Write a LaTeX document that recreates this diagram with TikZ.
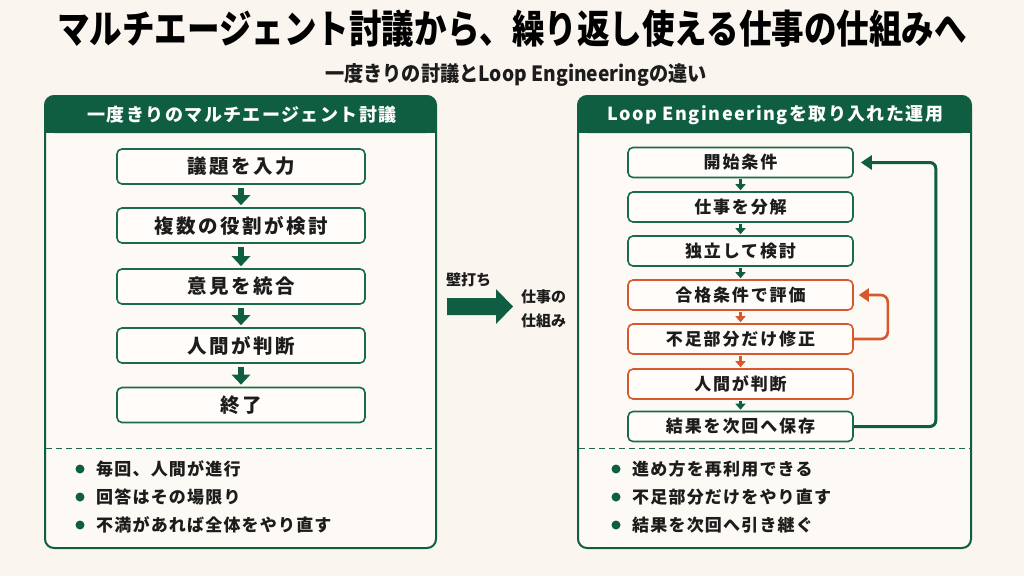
\documentclass[tikz,border=0pt]{standalone}
\usepackage{graphicx}
\usepackage{fontspec}
\setmainfont{Noto Sans CJK JP}
\usetikzlibrary{arrows.meta}
\definecolor{bg}{HTML}{FBF5EF}
\definecolor{panel}{HTML}{FDF9F4}
\definecolor{boxfill}{HTML}{FFFCF9}
\definecolor{gr}{HTML}{0F5E42}
\definecolor{boxg}{HTML}{1A6B4C}
\definecolor{org}{HTML}{D6582C}
\definecolor{ink}{HTML}{1C1C1C}
\tikzset{
  panelframe/.style={draw=gr, line width=2pt, rounded corners=9pt},
  lbox/.style={draw=boxg, line width=1.6pt, rounded corners=5pt, fill=boxfill,
    minimum width=248pt, minimum height=35pt, inner sep=0pt, text=ink,
    font=\fontsize{19.5}{22}\selectfont\bfseries\addfontfeature{LetterSpace=13}},
  rbox/.style={draw=boxg, line width=1.6pt, rounded corners=5pt, fill=boxfill,
    minimum width=225pt, minimum height=30pt, inner sep=0pt, text=ink,
    font=\fontsize{17}{20}\selectfont\bfseries\addfontfeature{LetterSpace=11}},
  obox/.style={rbox, draw=org},
  bigdown/.style={draw=gr, line width=6pt, -{Triangle[width=18pt,length=10pt]}, shorten <=3pt, shorten >=2pt},
  smalldown/.style={line width=3pt, -{Triangle[width=10pt,length=6pt]}, shorten <=1pt, shorten >=1pt},
  hdr/.style={text=white, font=\fontsize{18}{21}\selectfont\bfseries\addfontfeature{LetterSpace=8}},
  bullettext/.style={anchor=west, text=ink, inner sep=0pt, font=\fontsize{17}{20}\selectfont\bfseries\addfontfeature{LetterSpace=7}},
  midtext/.style={text=ink, inner sep=0pt, font=\fontsize{15}{18}\selectfont\bfseries},
  divider/.style={draw=boxg, line width=1pt, dash pattern=on 6pt off 4pt},
}
\begin{document}
\begin{tikzpicture}[x=1pt,y=-1pt]
\fill[bg] (0,0) rectangle (1024,576);
\useasboundingbox (0,0) rectangle (1024,576);

% titles
\node[text=black, inner sep=0pt] (title) at (512,29)
  {\fontsize{35}{40}\selectfont\bfseries\scalebox{0.93}[1.12]{マルチエージェント討議から、繰り返し使える仕事の仕組みへ}};
\node[text=ink, inner sep=0pt] (subtitle) at (516,75)
  {\fontsize{20}{23}\selectfont\bfseries\scalebox{0.96}[1.05]{一度きりの討議とLoop Engineeringの違い}};

% ---------- left panel ----------
\fill[panel, rounded corners=9pt] (45,96) rectangle (436,548);
\fill[gr, rounded corners=9pt] (45,96) rectangle (436,133);
\fill[gr] (45,120) rectangle (436,133);
\draw[panelframe] (45,96) rectangle (436,548);
\node[hdr] (lhead) at (242,115) {一度きりのマルチエージェント討議};

\node[lbox] (L1) at (241,166.5) {議題を入力};
\node[lbox] (L2) at (241,225.5) {複数の役割が検討};
\node[lbox] (L3) at (241,286.5) {意見を統合};
\node[lbox] (L4) at (241,345.5) {人間が判断};
\node[lbox] (L5) at (241,405) {終了};
\draw[bigdown] (L1) -- (L2);
\draw[bigdown] (L2) -- (L3);
\draw[bigdown] (L3) -- (L4);
\draw[bigdown] (L4) -- (L5);

\draw[divider] (46,448) -- (435,448);
\fill[gr] (80,469) circle (4.5pt);
\fill[gr] (80,497) circle (4.5pt);
\fill[gr] (80,525) circle (4.5pt);
\node[bullettext] (lb1) at (96,469) {毎回、人間が進行};
\node[bullettext] (lb2) at (96,497) {回答はその場限り};
\node[bullettext] (lb3) at (96,525) {不満があれば全体をやり直す};

% ---------- middle ----------
\node[midtext, anchor=west] (kabe) at (446,280) {壁打ち};
\fill[gr] (447,298) -- (496,298) -- (496,289) -- (513,306.5) -- (496,324) -- (496,315) -- (447,315) -- cycle;
\node[midtext, anchor=west] (shigoto1) at (521,296.5) {仕事の};
\node[midtext, anchor=west] (shigoto2) at (521,320.5) {仕組み};

% ---------- right panel ----------
\fill[panel, rounded corners=9pt] (578,96) rectangle (971,548);
\fill[gr, rounded corners=9pt] (578,96) rectangle (971,133);
\fill[gr] (578,120) rectangle (971,133);
\draw[panelframe] (578,96) rectangle (971,548);
\node[hdr] (rhead) at (775.5,115) {Loop Engineeringを取り入れた運用};

\node[rbox] (R1) at (740.5,162.5) {開始条件};
\node[rbox] (R2) at (740.5,207) {仕事を分解};
\node[rbox] (R3) at (740.5,251) {独立して検討};
\node[obox] (R4) at (740.5,295) {合格条件で評価};
\node[obox] (R5) at (740.5,339) {不足部分だけ修正};
\node[obox] (R6) at (740.5,384) {人間が判断};
\node[rbox] (R7) at (740.5,426.5) {結果を次回へ保存};
\draw[smalldown, gr] (R1) -- (R2);
\draw[smalldown, gr] (R2) -- (R3);
\draw[smalldown, gr] (R3) -- (R4);
\draw[smalldown, org] (R4) -- (R5);
\draw[smalldown, org] (R5) -- (R6);
\draw[smalldown, gr] (R6) -- (R7);

\draw[gr, line width=3pt, rounded corners=6pt, -{Triangle[width=14pt,length=11pt]}, shorten >=7pt]
  (R7.east) -- ++(82,0) |- (R1.east);
\draw[org, line width=2.6pt, rounded corners=7pt, -{Triangle[width=13pt,length=10pt]}, shorten >=5pt]
  (R5.east) -- ++(34,0) |- (R4.east);

\draw[divider] (579,448) -- (970,448);
\fill[gr] (616,469) circle (4.5pt);
\fill[gr] (616,497) circle (4.5pt);
\fill[gr] (616,525) circle (4.5pt);
\node[bullettext] (rb1) at (632,469) {進め方を再利用できる};
\node[bullettext] (rb2) at (632,497) {不足部分だけをやり直す};
\node[bullettext] (rb3) at (632,525) {結果を次回へ引き継ぐ};
\end{tikzpicture}
\end{document}
